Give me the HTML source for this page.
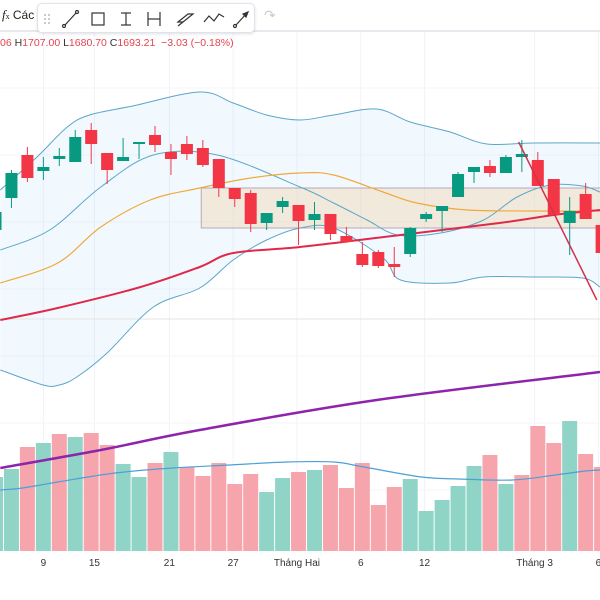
<!DOCTYPE html>
<html><head><meta charset="utf-8"><style>
body{margin:0;width:600px;height:600px;overflow:hidden;background:#fff;font-family:"Liberation Sans",sans-serif}
svg{position:absolute;left:0;top:0}
</style></head><body>
<svg width="600" height="600" id="chart"></svg>
<script>
const idx=[0,1,2,3,4,5,6,7,8,9,10,11,12,13,14,15,16,17,18,19,20,21,22,23,24,25,26,27,28,29,30,31,32,33,34,35,36,37,38];
const opens=[1685,1701,1722.5,1714.5,1720.5,1719,1735,1723.5,1719.5,1728,1732.5,1724,1728,1726,1720.5,1706,1703.5,1688.5,1696.5,1697.5,1690,1693,1682,1673,1674,1668,1673,1690.5,1694.5,1701.5,1714,1717,1713.5,1721.5,1720,1710.5,1688.5,1703,1687.5];
const highs=[1697.5,1715,1726.5,1721.5,1726,1735,1738.5,1723.5,1731,1729,1737,1728,1732,1730,1720.5,1706,1705,1693.5,1701.5,1697.5,1699,1693,1686.5,1679,1675,1676.5,1686.5,1694,1697,1714,1716.5,1720,1722.5,1730,1724,1710.5,1701.5,1708.5,1690];
const lows=[1682.5,1696,1709,1710,1717,1719,1718,1708,1719.5,1720.5,1724,1712.5,1720,1716.5,1701.5,1696.5,1684,1685,1693.5,1677.5,1685,1680,1679,1666.5,1666,1661.5,1671.5,1689,1684,1701.5,1708.5,1711.5,1713.5,1714,1707,1692.5,1672.5,1690.5,1673.5];
const closes=[1694,1713.5,1711,1716.5,1722,1731.5,1728,1715,1721.5,1729,1727.5,1720.5,1723,1717.5,1706,1700.5,1688,1693.5,1699.5,1689.5,1693,1683,1679,1667.5,1667,1666.5,1686,1693,1697,1713,1716.5,1713.5,1721.5,1723,1707,1692.5,1694.5,1690.5,1673.5];
const volumes=[74,82,104,108,117,114,118,106,87,74,88,99,84,75,88,67,77,59,73,79,81,86,63,88,46,64,72,40,51,65,85,96,67,76,125,108,130,97,84];
const volUp=[1,1,0,1,0,1,0,0,1,1,0,1,0,0,0,0,0,1,1,0,1,0,0,0,0,0,1,1,1,1,1,0,1,0,0,0,1,0,0];
const upperIdx=[0.3,2.6,4.5,5.9,8.6,12.8,14.9,17,19.1,21.2,23.9,26,28.5,30.8,33.7,37.9];
const upperVal=[1705,1721.5,1736.5,1742.5,1747,1754,1748.5,1742.5,1740,1742.5,1745.5,1739,1734,1728,1728.5,1728.5];
const midIdx=[0.3,3.4,6.6,9.9,13.9,19.1,21.2,23.3,25.2,27.9,30.6,32.7,34.8,36.8,37.9];
const midVal=[1675,1685,1706.5,1722.5,1722.5,1706.5,1698.5,1690,1682.5,1683.5,1690,1701.5,1707.5,1707,1704];
const lowerIdx=[0.3,3,4,5.1,7,9.9,12.8,14.9,17,19.1,21.2,24.3,25.4,28.5,30.6,33.7,36.8,37.9];
const lowerVal=[1615,1607.5,1607.5,1611.5,1623.5,1646.5,1656,1670,1680,1686,1686,1671,1660,1658.5,1661.5,1661.5,1661,1656.5];
const orangeIdx=[0.3,3.9,6.6,9.7,12.8,16,19.1,21.2,24.3,26.4,29.6,33.7,37.9];
const orangeVal=[1658.5,1668.5,1686.5,1700,1706,1711,1713.5,1712.5,1704,1698.5,1695,1694.5,1694.5];
const redIdx=[0.3,3.9,9.1,12.8,14.9,19.1,25.4,31.6,35,37.9];
const redVal=[1640,1646,1656.5,1666.5,1673.5,1676.5,1682.5,1688.5,1692.5,1695];
const purpleIdx=[0.3,6.6,12.8,23.9,37.9];
const purpleVal=[1566,1575,1585,1600,1614];
const volMaIdx=[0.3,1.7,3.9,7.5,11.1,14.7,18.3,21.2,23.1,26.7,29.1,32.4,35.1,37,37.9];
const volMaVal=[61,63,69,78,83,86,89,89,84,74,72,71,76,80,81];
const tickIdx=[3,6.2,10.9,14.9,18.9,22.9,26.9,33.8,37.8];
const tickLabels=["9","15","21","27","Tháng Hai","6","12","Tháng 3","6"];

const NS="http://www.w3.org/2000/svg";
const svg=document.getElementById('chart');
const X=i=>-4.5+i*15.95;
const Y=p=>(1800-p)*2;
const VY=v=>551-v;
function el(t,a,parent){const e=document.createElementNS(NS,t);for(const k in a)e.setAttribute(k,a[k]);(parent||svg).appendChild(e);return e;}
function smooth(pts,start){let s=start?('M'+pts[0][0].toFixed(1)+' '+pts[0][1].toFixed(1)):('L'+pts[0][0].toFixed(1)+' '+pts[0][1].toFixed(1));
for(let k=0;k<pts.length-1;k++){const p0=pts[Math.max(0,k-1)],p1=pts[k],p2=pts[k+1],p3=pts[Math.min(pts.length-1,k+2)];
const c1=[p1[0]+(p2[0]-p0[0])/6,p1[1]+(p2[1]-p0[1])/6],c2=[p2[0]-(p3[0]-p1[0])/6,p2[1]-(p3[1]-p1[1])/6];
s+='C'+c1[0].toFixed(1)+' '+c1[1].toFixed(1)+' '+c2[0].toFixed(1)+' '+c2[1].toFixed(1)+' '+p2[0].toFixed(1)+' '+p2[1].toFixed(1);}
return s;}
tickIdx.forEach(t=>{const g=el('line',{x1:X(t),x2:X(t),y1:32,y2:552,stroke:'#f0f3fa','stroke-width':1});

});
[88,155,222,289,356,423,490].forEach(y=>{const g=el('line',{x1:0,x2:600,y1:y,y2:y,stroke:'#f5f6fa'});

});
const upPts=upperIdx.map((t,k)=>[X(t),Y(upperVal[k])]);
const loPts=lowerIdx.map((t,k)=>[X(t),Y(lowerVal[k])]);
const bf=el('path',{d:smooth(upPts,true)+smooth(loPts.slice().reverse(),false)+'Z',fill:'rgba(33,150,243,0.06)'});


const pl=el('line',{x1:0,x2:600,y1:319,y2:319,stroke:'#e6e3e0','stroke-width':1});


const rc=el('rect',{x:X(12.9),y:Y(1706),width:X(40)-X(12.9),height:Y(1686)-Y(1706),fill:'rgba(240,215,180,0.45)',stroke:'#b8a8b8','stroke-width':1});


volumes.forEach((v,i)=>{const b=el('rect',{x:X(i)-7.5,y:VY(v),width:15,height:v,fill:volUp[i]?'#8fd4c6':'#f7a5ac'});

});
function line(ix,vals,fy,color,w,name){const pts=ix.map((t,k)=>[X(t),fy(vals[k])]);
const p=el('path',{d:smooth(pts,true),fill:'none',stroke:color,'stroke-width':w,'stroke-linejoin':'round'});

}
line(volMaIdx,volMaVal,VY,'#4d9fd6',1.2,'volume-ma-line');
line(upperIdx,upperVal,Y,'#5ba6c9',1,'bollinger-upper');
line(lowerIdx,lowerVal,Y,'#5ba6c9',1,'bollinger-lower');
line(midIdx,midVal,Y,'#5ba6c9',1,'bollinger-basis');
line(orangeIdx,orangeVal,Y,'#f0a93a',1.2,'ma-orange');
line(redIdx,redVal,Y,'#e0294a',2,'ma-red');
line(purpleIdx,purpleVal,Y,'#8e24aa',2.5,'ma-purple');
idx.forEach(i=>{const up=closes[i]>=opens[i];const c=up?'#089981':'#f23645';
const g=el('g',{});


el('line',{x1:X(i),x2:X(i),y1:Y(highs[i]),y2:Y(lows[i]),stroke:c,'stroke-width':1},g);
const t=Y(Math.max(opens[i],closes[i])),b=Y(Math.min(opens[i],closes[i]));
el('rect',{x:X(i)-6,y:t,width:12,height:Math.max(1.5,b-t),fill:c},g);});
const tl=el('line',{x1:X(32.8),y1:Y(1729),x2:X(37.7),y2:Y(1650),stroke:'#d3324a','stroke-width':1.5});


tickIdx.forEach((t,k)=>{const tx=el('text',{x:X(t),y:566,'text-anchor':'middle','font-size':10,fill:'#333','font-family':'Liberation Sans, sans-serif'});
tx.textContent=tickLabels[k];

});
</script>
<div style="position:absolute;left:0;top:30px;width:600px;height:2px;background:#e8e9ee"></div>
<div style="position:absolute;left:2px;top:7px;font-size:13px;color:#222;font-family:'Liberation Serif',serif"><i>f</i><span style="font-size:8px">x</span> <span style="font-family:'Liberation Sans',sans-serif;font-size:12px">Các</span></div>
<div style="position:absolute;left:37px;top:3px;width:216px;height:28px;background:#fff;border:1px solid #e0e3eb;border-radius:5px;box-shadow:0 1px 3px rgba(0,0,0,.12)">
<svg width="216" height="28" style="position:absolute;left:0;top:0" fill="none" stroke="#333" stroke-width="1.2">
<g fill="#bbb" stroke="none"><circle cx="7" cy="11" r="1"/><circle cx="11" cy="11" r="1"/><circle cx="7" cy="15" r="1"/><circle cx="11" cy="15" r="1"/><circle cx="7" cy="19" r="1"/><circle cx="11" cy="19" r="1"/></g>
<g><line x1="27" y1="21" x2="38" y2="9"/><circle cx="26" cy="22" r="1.5"/><circle cx="39" cy="8" r="1.5"/></g>
<g><rect x="54" y="9" width="12" height="12"/></g>
<g><line x1="83" y1="9" x2="93" y2="9"/><line x1="88" y1="9" x2="88" y2="21"/><line x1="83" y1="21" x2="93" y2="21"/></g>
<g><line x1="110" y1="8" x2="110" y2="22"/><line x1="122" y1="8" x2="122" y2="22"/><line x1="110" y1="15" x2="122" y2="15"/></g>
<g><path d="M140 18 L150 10 L155 10 L145 18Z M140 22 L150 14"/></g>
<g><path d="M166 18 L171 12 L176 17 L181 10 L186 13"/></g>
<g><line x1="198" y1="21" x2="209" y2="9"/><circle cx="197" cy="22" r="1.5"/><path d="M205 10 L210 8 L208 13Z" fill="#333"/></g>
</svg></div>
<div style="position:absolute;left:264px;top:7px;font-size:14px;color:#ccc">↷</div>
<div style="position:absolute;left:0;top:37px;font-size:10.5px;color:#e5434f;white-space:nowrap">06 <span style="color:#333">H</span>1707.00 <span style="color:#333">L</span>1680.70 <span style="color:#333">C</span>1693.21 &nbsp;−3.03 (−0.18%)</div>
</body></html>
